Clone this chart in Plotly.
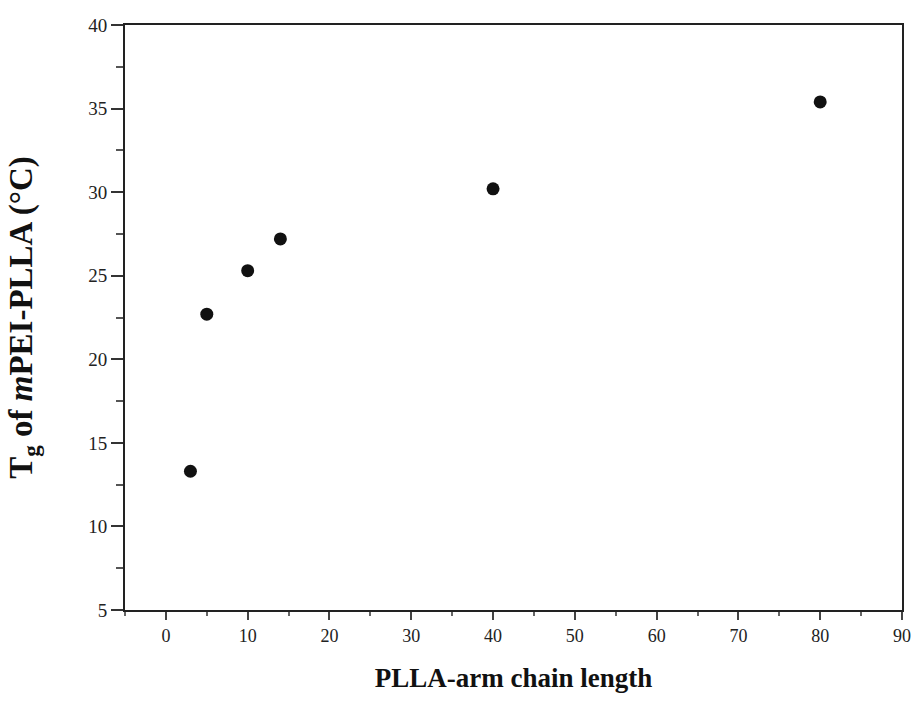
import plotly.graph_objects as go

chain_length = [3, 5, 10, 14, 40, 80]
tg_values = [13.3, 22.7, 25.3, 27.2, 30.2, 35.4]

x_ticks = [0, 10, 20, 30, 40, 50, 60, 70, 80, 90]
y_ticks = [5, 10, 15, 20, 25, 30, 35, 40]

fig = go.Figure()
fig.add_trace(go.Scatter(
    x=chain_length, y=tg_values, mode="markers",
    marker=dict(size=13, color="#111111"),
    showlegend=False,
))

font_serif = "Liberation Serif, Times New Roman, serif"

fig.update_layout(
    width=914, height=703,
    margin=dict(l=125, r=12, t=25, b=93),
    paper_bgcolor="white", plot_bgcolor="white",
    font=dict(family=font_serif, color="#222222", size=18),
    xaxis=dict(
        range=[-5, 90], tickvals=x_ticks, ticks="outside", ticklen=8,
        tickwidth=1.5, tickcolor="#444", showgrid=False, zeroline=False,
        showline=True, linecolor="#222", linewidth=2, mirror=True,
        automargin=False, ticklabeloverflow="allow",
        minor=dict(dtick=5, tick0=0, ticks="outside", ticklen=4, tickcolor="#666"),
        tickfont=dict(size=18, family=font_serif),
        title=dict(text="<b>PLLA-arm chain length</b>", font=dict(size=27, family=font_serif, color="#111"), standoff=24),
    ),
    yaxis=dict(
        range=[5, 40], tickvals=y_ticks, ticks="outside", ticklen=12,
        tickwidth=1.5, tickcolor="#333", showgrid=False, zeroline=False,
        showline=True, linecolor="#222", linewidth=2, mirror=True,
        automargin=False, ticklabeloverflow="allow",
        minor=dict(dtick=2.5, tick0=0, ticks="outside", ticklen=7, tickcolor="#555"),
        tickfont=dict(size=19, family=font_serif),
        title=dict(text="<b>T<sub>g</sub> of <i>m</i>PEI-PLLA (°C)</b>", font=dict(size=33, family=font_serif, color="#111"), standoff=46),
    ),
)

# remove the default page margin so the 914x703 figure fills the window exactly
fig.write_html(
    "out.html",
    config={"displayModeBar": False},
    post_script="document.body.style.margin='0';document.body.style.overflow='hidden';",
)
